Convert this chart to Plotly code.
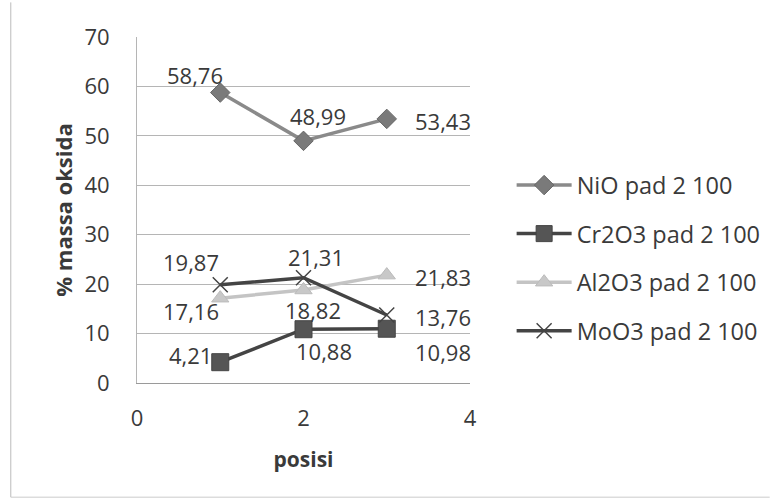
import plotly.graph_objects as go

# ---- data ----
posisi = [1, 2, 3]
nio = [58.76, 48.99, 53.43]
cr2o3 = [4.21, 10.88, 10.98]
al2o3 = [17.16, 18.82, 21.83]
moo3 = [19.87, 21.31, 13.76]
series_names = ["NiO pad 2 100", "Cr2O3 pad 2 100", "Al2O3 pad 2 100", "MoO3 pad 2 100"]
x_ticks = [0, 2, 4]
y_ticks = [0, 10, 20, 30, 40, 50, 60, 70]

# ---- styles ----
FONT = "Open Sans"
TXT = "#3a3a3a"
styles = [
    dict(line=dict(color="#8a8a8a", width=3.5),
         marker=dict(symbol="diamond", size=15, color="#7a7a7a", line=dict(color="#666", width=1))),
    dict(line=dict(color="#444444", width=3.5),
         marker=dict(symbol="square", size=17, color="#555555", line=dict(color="#444", width=1))),
    dict(line=dict(color="#c4c4c4", width=3.5),
         marker=dict(symbol="triangle-up", size=15, color="#c8c8c8", line=dict(color="#bbb", width=1))),
    dict(line=dict(color="#444444", width=3.5),
         marker=dict(symbol="x-thin", size=15, line=dict(color="#444444", width=1.5))),
]
all_series = [nio, cr2o3, al2o3, moo3]

# label offsets (pixels) per series per point
offsets = [
    [(-25, -18), (14, -25), (56, 2)],
    [(-30, -7), (20, 22), (56, 23)],
    [(-29, 13), (9, 20), (56, 2)],
    [(-29, -23), (12, -21), (56, 2)],
]

fig = go.Figure()
for i, (name, ys) in enumerate(zip(series_names, all_series)):
    fig.add_trace(go.Scatter(x=posisi, y=ys, name=name, mode="lines+markers",
                             legendgroup=str(i), **styles[i]))

annotations = []
for i, ys in enumerate(all_series):
    for j, (xv, yv) in enumerate(zip(posisi, ys)):
        dx, dy = offsets[i][j]
        annotations.append(dict(x=xv, y=yv, xref="x", yref="y",
                                text=f"{yv:.2f}".replace(".", ","),
                                showarrow=False, xshift=dx, yshift=-dy,
                                font=dict(family=FONT, size=22, color=TXT)))

fig.update_layout(
    width=778, height=504,
    margin=dict(l=137, r=306, t=37, b=121),
    paper_bgcolor="white", plot_bgcolor="white",
    font=dict(family=FONT, color=TXT, size=22),
    showlegend=True,
    legend=dict(x=1.125, y=0.635, xanchor="left", yanchor="top",
                font=dict(family=FONT, size=23.5, color=TXT),
                tracegroupgap=15, itemwidth=55, bgcolor="rgba(0,0,0,0)"),
    annotations=annotations,
    shapes=[
        dict(type="line", xref="paper", yref="paper", x0=-0.379, x1=-0.379, y0=-0.33, y1=1.1,
             line=dict(color="#bbbbbb", width=1)),
        dict(type="line", xref="paper", yref="paper", x0=-0.379, x1=1.9, y0=-0.33, y1=-0.33,
             line=dict(color="#cccccc", width=1)),
    ],
)
fig.update_xaxes(range=[0, 4], tickvals=x_ticks, showgrid=False, zeroline=False,
                 showline=True, linecolor="#9a9a9a", linewidth=1, ticks="",
                 ticklabelstandoff=16,
                 tickfont=dict(family=FONT, size=22, color=TXT),
                 title=dict(text="posisi", font=dict(family=FONT, size=21, color=TXT, weight="bold"), standoff=20))
fig.update_yaxes(range=[0, 70], tickvals=y_ticks, showgrid=True, gridcolor="#b5b5b5", gridwidth=1,
                 zeroline=False, showline=True, linecolor="#b5b5b5", linewidth=1, ticks="",
                 ticklabelstandoff=22,
                 tickfont=dict(family=FONT, size=22, color=TXT),
                 title=dict(text="% massa oksida", font=dict(family=FONT, size=22, color=TXT, weight="bold"), standoff=5))

fig.write_html("out.html")
